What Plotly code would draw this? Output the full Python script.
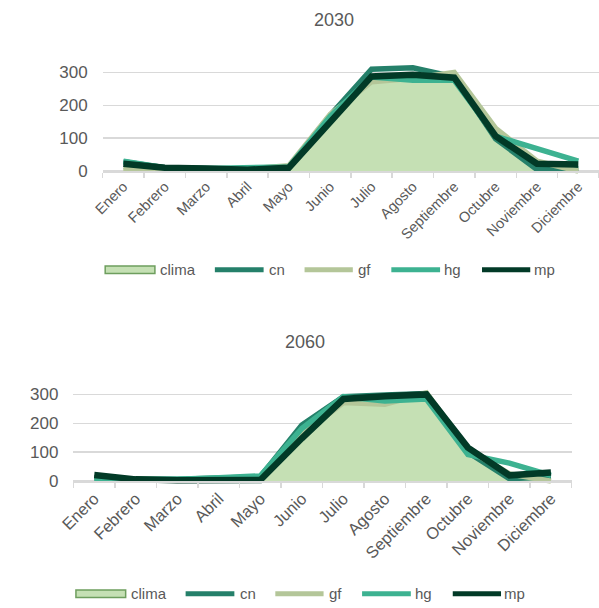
import plotly.graph_objects as go

months = ["Enero", "Febrero", "Marzo", "Abril", "Mayo", "Junio", "Julio",
          "Agosto", "Septiembre", "Octubre", "Noviembre", "Diciembre"]

# 2030
clima_2030 = [8, 5, 3, 4, 14, 168, 268, 278, 295, 120, 20, 0]
cn_2030 = [28, 10, 8, 5, 12, 170, 310, 314, 286, 98, 5, 6]
gf_2030 = [6, 4, 3, 6, 16, 172, 272, 282, 300, 130, 30, 0]
hg_2030 = [30, 10, 8, 8, 12, 166, 286, 276, 276, 106, 67, 30]
mp_2030 = [22, 10, 8, 4, 10, 150, 288, 293, 284, 106, 22, 20]

# 2060
clima_2060 = [5, 3, 2, 3, 4, 150, 270, 268, 290, 100, 15, 0]
cn_2060 = [12, 6, 6, 10, 15, 194, 292, 298, 303, 100, 8, 15]
gf_2060 = [10, 5, 4, 6, 10, 160, 272, 266, 305, 110, 25, 0]
hg_2060 = [6, 6, 6, 12, 18, 182, 292, 277, 284, 92, 62, 20]
mp_2060 = [21, 6, 3, 3, 4, 148, 284, 294, 300, 116, 20, 30]

series_names = ["clima", "cn", "gf", "hg", "mp"]
colors = {"cn": "#25806A", "gf": "#B4C699", "hg": "#3DB291", "mp": "#023A27"}
widths = {"cn": 5.5, "gf": 5.5, "hg": 5.5, "mp": 6.5}
CLIMA_FILL = "#C5E0B4"
CLIMA_EDGE = "#6E9E5E"

data = {
    "2030": dict(clima=clima_2030, cn=cn_2030, gf=gf_2030, hg=hg_2030, mp=mp_2030),
    "2060": dict(clima=clima_2060, cn=cn_2060, gf=gf_2060, hg=hg_2060, mp=mp_2060),
}

W, H = 599, 608
FONT = "Liberation Sans, Arial, sans-serif"
GRAY = "#595959"
GRID = "#D9D9D9"

fig = go.Figure()

panels = [
    # key, xaxis, yaxis, x0px, x1px, zero_py, px_per_unit, ticksize, title_x, title_y, legend_x0, legend_y
    ("2030", "x", "y", 90, 599, 173.0, 100 / 300.9, 14.5, 327, 20, 92.5, 273),
    ("2060", "x2", "y2", 60, 571, 486.7, 87.7 / 300, 16.5, 297, 346, 62.5, 600.7),
]

# legend layout offsets (px, relative to legend start): symbol start, symbol end, text start
legend_slots = {
    "clima": (0, 51, 56),
    "cn": (110.5, 164.5, 168),
    "gf": (202.5, 256, 259.5),
    "hg": (291.5, 345.5, 347.5),
    "mp": (384.5, 438, 439.5),
}

for key, xa, ya, x0, x1, zpy, ppu, tsize, tx, ty, lx0, ly in panels:
    d = data[key]
    fig.add_trace(go.Scatter(
        x=months, y=d["clima"], name="clima", mode="lines", fill="tozeroy",
        fillcolor=CLIMA_FILL, line=dict(color="#8DB77F", width=1),
        xaxis=xa, yaxis=ya, hoverinfo="skip", showlegend=False))
    for s in ["cn", "gf", "hg", "mp"]:
        fig.add_trace(go.Scatter(
            x=months, y=d[s], name=s, mode="lines",
            line=dict(color=colors[s], width=widths[s]),
            xaxis=xa, yaxis=ya, showlegend=False))

    ymin, ymax = -10, 350
    bottom_py = zpy - ymin * ppu
    top_py = zpy - ymax * ppu
    suffix = "" if xa == "x" else "2"
    fig.update_layout(**{
        "xaxis" + suffix: dict(
            domain=[x0 / W, x1 / W], anchor="free", position=1 - zpy / H,
            type="category", tickson="boundaries", ticks="outside", ticklen=5,
            tickcolor=GRID, tickwidth=1.5, showline=True, linecolor=GRID, linewidth=1.5,
            showgrid=False, tickangle=-45,
            tickfont=dict(family=FONT, size=tsize, color=GRAY),
            range=[-0.5, 11.5], fixedrange=True),
        "yaxis" + suffix: dict(
            domain=[1 - bottom_py / H, 1 - top_py / H], anchor=xa,
            range=[ymin, ymax], tickvals=[0, 100, 200, 300],
            showgrid=True, gridcolor=GRID, gridwidth=1.5, zeroline=False,
            showline=False, ticks="", ticklabelstandoff=14,
            tickfont=dict(family=FONT, size=17, color=GRAY), fixedrange=True),
    })
    fig.add_annotation(text=key, x=tx / W, y=1 - ty / H, xref="paper", yref="paper",
                       showarrow=False, xanchor="center", yanchor="middle",
                       font=dict(family=FONT, size=18, color=GRAY))

    # custom legend
    yp = 1 - ly / H
    for s in series_names:
        a, b, t = legend_slots[s]
        if s == "clima":
            fig.add_shape(type="rect", xref="paper", yref="paper",
                          x0=(lx0 + a) / W, x1=(lx0 + b) / W,
                          y0=1 - (ly + 3.8) / H, y1=1 - (ly - 3.8) / H,
                          fillcolor=CLIMA_FILL, line=dict(color=CLIMA_EDGE, width=1.5))
        else:
            fig.add_shape(type="line", xref="paper", yref="paper",
                          x0=(lx0 + a + 2) / W, x1=(lx0 + b - 2) / W, y0=yp, y1=yp,
                          line=dict(color=colors[s], width=5))
        fig.add_annotation(text=s, x=(lx0 + t) / W, y=yp, xref="paper", yref="paper",
                           showarrow=False, xanchor="left", yanchor="middle",
                           borderpad=0, xshift=-1,
                           font=dict(family=FONT, size=15, color=GRAY))

fig.update_layout(
    width=W, height=H, margin=dict(l=0, r=0, t=0, b=0),
    paper_bgcolor="white", plot_bgcolor="white", showlegend=False,
)

fig.write_html("out.html",
               config={"displayModeBar": False, "staticPlot": True},
               post_script="document.body.style.margin='0';document.body.style.overflow='hidden';")
